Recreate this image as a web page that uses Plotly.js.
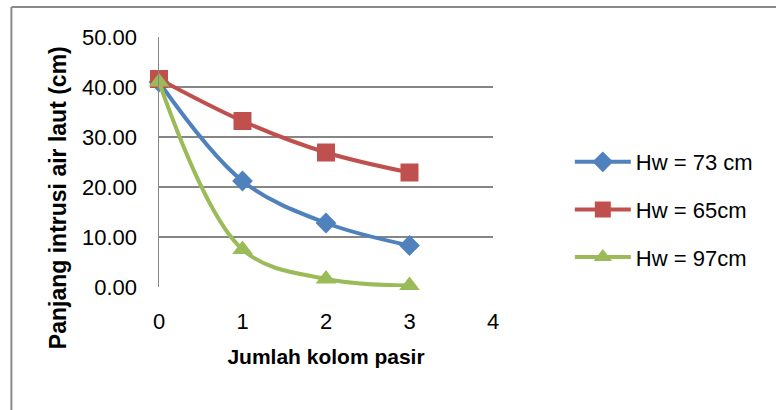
<!DOCTYPE html>
<html>
<head>
<meta charset="utf-8">
<script src="https://cdn.plot.ly/plotly-3.0.1.min.js"></script>
<style>
  html, body { margin: 0; padding: 0; background: #fff; }
  #chart { width: 776px; height: 410px; }
</style>
</head>
<body>
<div id="chart"></div>
<script>
// Jumlah kolom pasir (number of sand columns)
const kolomPasir = [0, 1, 2, 3];

// Panjang intrusi air laut (cm) per water height
const hw73 = [41.0, 21.2, 12.8, 8.3];
const hw65 = [41.6, 33.2, 26.9, 22.9];
const hw97 = [41.0, 7.5, 1.6, 0.3];

const seriesNames = ['Hw = 73 cm', 'Hw = 65cm', 'Hw = 97cm'];
const yTickVals = [0, 10, 20, 30, 40, 50];
const yTickText = ['0.00', '10.00', '20.00', '30.00', '40.00', '50.00'];
const xTickVals = [0, 1, 2, 3, 4];

const xTitle = 'Jumlah kolom pasir';
const yTitle = 'Panjang intrusi air laut (cm)';

const FONT = 'Liberation Sans, Arial, sans-serif';

function series(y, name, color, symbol, size, group) {
  return {
    x: kolomPasir,
    y: y,
    name: name,
    type: 'scatter',
    mode: 'lines+markers',
    legendgroup: group,
    line: { color: color, width: 4, shape: 'spline', smoothing: 1 },
    marker: { color: color, symbol: symbol, size: size, line: { width: 0 } },
    cliponaxis: false
  };
}

const data = [
  series(hw73, seriesNames[0], '#4F81BD', 'diamond', 16, 'a'),
  series(hw65, seriesNames[1], '#C0504D', 'square', 18, 'b'),
  series(hw97, seriesNames[2], '#9BBB59', 'triangle-up', 18, 'c')
];

const layout = {
  width: 776,
  height: 410,
  margin: { l: 159, r: 283, t: 37, b: 123 },
  paper_bgcolor: '#ffffff',
  plot_bgcolor: '#ffffff',
  font: { family: FONT, color: '#000000', size: 22 },
  showlegend: true,
  legend: {
    x: 1.23, xanchor: 'left',
    y: 0.31, yanchor: 'middle',
    traceorder: 'grouped',
    tracegroupgap: 16,
    itemwidth: 56,
    font: { family: FONT, size: 22, color: '#000000' },
    bgcolor: 'rgba(0,0,0,0)'
  },
  xaxis: {
    range: [0, 4],
    tickvals: xTickVals,
    ticktext: xTickVals.map(String),
    showgrid: false,
    zeroline: false,
    showline: false,
    ticks: '',
    ticklabelstandoff: 19,
    tickfont: { family: FONT, size: 22, color: '#000000' },
    title: {
      text: '<b>' + xTitle + '</b>',
      font: { family: FONT, size: 21, color: '#000000' },
      standoff: 16
    }
  },
  yaxis: {
    range: [0, 50],
    tickvals: yTickVals,
    ticktext: yTickText,
    showgrid: true,
    gridcolor: '#868686',
    gridwidth: 1.5,
    zeroline: false,
    showline: true,
    linecolor: '#868686',
    linewidth: 1.5,
    ticks: '',
    ticklabelstandoff: 16,
    tickfont: { family: FONT, size: 22, color: '#000000' },
    title: { text: '' }
  },
  annotations: [
    // vertical axis title, sitting a little below the plot's middle
    { text: '<b>' + yTitle + '</b>', textangle: -90,
      xref: 'paper', yref: 'paper', x: -0.302, y: 0.356,
      xanchor: 'center', yanchor: 'middle', showarrow: false,
      font: { family: FONT, size: 23, color: '#000000' } }
  ],
  shapes: [
    // chart frame (top and left edges visible)
    { type: 'line', xref: 'paper', yref: 'paper', x0: -0.4419, x1: 2.0, y0: 1.12, y1: 1.12,
      line: { color: '#8a8a8a', width: 2 } },
    { type: 'line', xref: 'paper', yref: 'paper', x0: -0.4419, x1: -0.4419, y0: 1.12, y1: -1,
      line: { color: '#8a8a8a', width: 2 } }
  ]
};

Plotly.newPlot('chart', data, layout, { staticPlot: true, displayModeBar: false });
</script>
</body>
</html>
